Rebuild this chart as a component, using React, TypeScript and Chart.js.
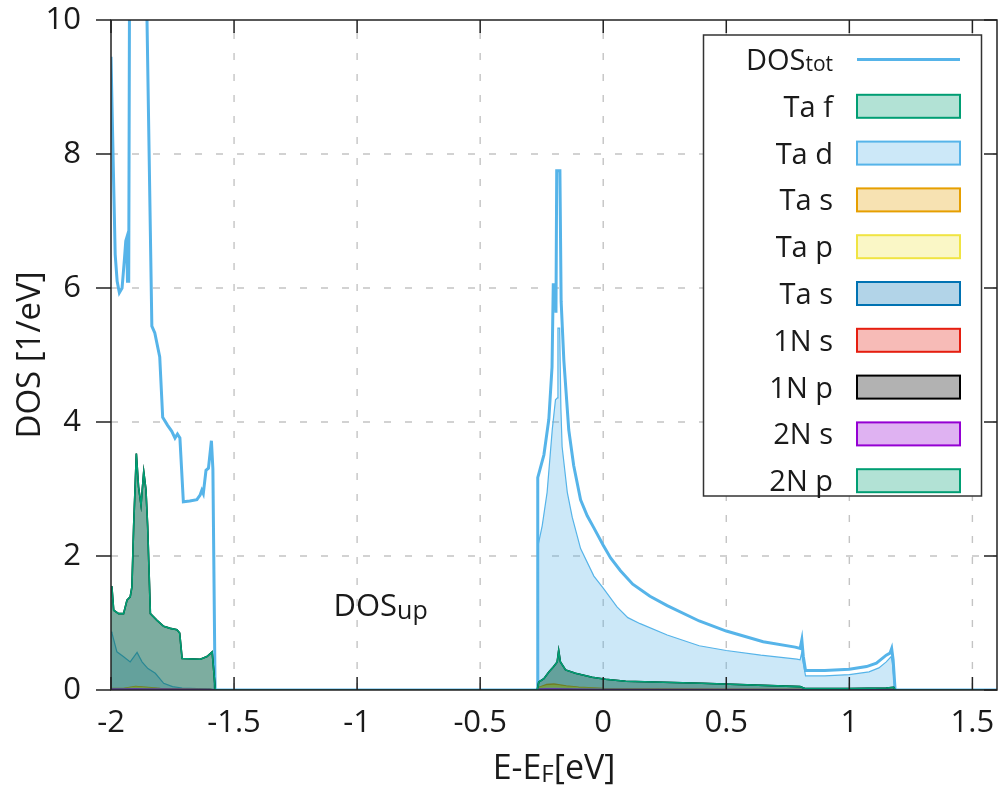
import { useEffect, useRef } from "react";
import { Chart, registerables } from "chart.js";

Chart.register(...registerables);

const FONT = "'Open Sans', 'Noto Sans', sans-serif";

const xTicks = [-2, -1.5, -1, -0.5, 0, 0.5, 1, 1.5];
const yTicks = [0, 2, 4, 6, 8, 10];

// DOS total
const totE = [-2.0, -1.99, -1.983, -1.975, -1.966, -1.955, -1.945, -1.94, -1.936, -1.933, -1.928, -1.924, -1.9, -1.87, -1.855, -1.834, -1.822, -1.802, -1.79, -1.77, -1.753, -1.74, -1.73, -1.72, -1.706, -1.68, -1.651, -1.638, -1.631, -1.625, -1.614, -1.604, -1.592, -1.586, -1.577,
  -0.268, -0.266, -0.241, -0.221, -0.208, -0.203, -0.194, -0.192, -0.189, -0.176, -0.171, -0.16, -0.14, -0.12, -0.092, -0.065, -0.038, 0.0, 0.03, 0.07, 0.12, 0.19, 0.26, 0.39, 0.5, 0.65, 0.78, 0.8, 0.807, 0.813, 0.822, 0.9, 1.0, 1.07, 1.11, 1.15, 1.165, 1.172, 1.178, 1.186, 1.6];
const totV = [9.45, 7.7, 6.5, 6.1, 5.93, 6.0, 6.45, 6.7, 6.75, 6.1, 6.1, 11.5, 14, 13, 10.3, 5.43, 5.33, 4.97, 4.07, 3.95, 3.86, 3.76, 3.82, 3.76, 2.81, 2.82, 2.84, 2.91, 2.98, 2.93, 3.28, 3.31, 3.72, 3.3, 0,
  0, 3.17, 3.51, 4.04, 4.82, 6.05, 6.05, 5.63, 7.75, 7.75, 5.8, 4.92, 3.88, 3.35, 2.84, 2.6, 2.42, 2.16, 1.97, 1.78, 1.58, 1.4, 1.26, 1.03, 0.88, 0.72, 0.64, 0.62, 0.75, 0.5, 0.29, 0.29, 0.31, 0.35, 0.4, 0.52, 0.55, 0.62, 0.45, 0, 0];

// Ta d
const tadE = [-2.0, -1.996, -1.976, -1.95, -1.922, -1.894, -1.874, -1.85, -1.82, -1.786, -1.75, -1.711, -1.65, -1.577, -1.575,
  -0.266, -0.264, -0.248, -0.228, -0.207, -0.194, -0.186, -0.184, -0.177, -0.172, -0.167, -0.146, -0.126, -0.092, -0.038, 0.0, 0.056, 0.1, 0.15, 0.26, 0.39, 0.5, 0.64, 0.787, 0.8, 0.806, 0.812, 0.822, 0.9, 1.0, 1.08, 1.12, 1.15, 1.17, 1.175, 1.185, 1.6];
const tadV = [0.87, 0.85, 0.57, 0.5, 0.42, 0.56, 0.42, 0.32, 0.25, 0.1, 0.05, 0.03, 0.02, 0.01, 0,
  0, 2.17, 2.45, 2.95, 3.89, 4.33, 4.36, 5.4, 5.4, 4.2, 3.63, 2.95, 2.58, 2.11, 1.7, 1.52, 1.24, 1.08, 0.99, 0.82, 0.66, 0.59, 0.52, 0.46, 0.45, 0.55, 0.42, 0.21, 0.21, 0.23, 0.27, 0.33, 0.42, 0.5, 0.4, 0, 0];

// N p (1N p and 2N p coincide)
const npE = [-2.0, -1.996, -1.989, -1.969, -1.949, -1.935, -1.922, -1.915, -1.908, -1.897, -1.888, -1.878, -1.867, -1.858, -1.851, -1.84, -1.813, -1.786, -1.759, -1.732, -1.721, -1.711, -1.637, -1.61, -1.589, -1.576,
  -0.268, -0.262, -0.241, -0.221, -0.201, -0.187, -0.181, -0.174, -0.153, -0.113, -0.045, 0.009, 0.091, 0.4, 0.8, 0.822, 1.0, 1.15, 1.18, 1.186, 1.6];
const npV = [1.55, 1.52, 1.19, 1.14, 1.14, 1.34, 1.39, 1.54, 2.44, 3.53, 3.03, 2.76, 3.26, 2.99, 2.44, 1.14, 1.04, 0.95, 0.92, 0.9, 0.85, 0.47, 0.46, 0.5, 0.57, 0,
  0, 0.12, 0.17, 0.27, 0.35, 0.42, 0.59, 0.42, 0.3, 0.25, 0.19, 0.16, 0.13, 0.1, 0.05, 0.02, 0.02, 0.03, 0.04, 0, 0];

// small partials
const smallE = [-2.0, -1.95, -1.9, -1.86, -1.8, -1.6, -1.576, -0.266, -0.26, -0.23, -0.2, -0.15, -0.1, 0.0, 0.5, 1.18, 1.186, 1.6];
const tasV = [0.02, 0.02, 0.05, 0.04, 0.02, 0.01, 0, 0, 0.04, 0.08, 0.09, 0.06, 0.04, 0.02, 0.01, 0.005, 0, 0];
const tapV = [0.015, 0.015, 0.04, 0.03, 0.015, 0.008, 0, 0, 0.03, 0.06, 0.065, 0.045, 0.03, 0.015, 0.008, 0.004, 0, 0];
const tas2V = [0.01, 0.01, 0.012, 0.01, 0.008, 0.005, 0, 0, 0.01, 0.012, 0.012, 0.01, 0.008, 0.006, 0.004, 0.003, 0, 0];
const n1sV = [0.006, 0.006, 0.008, 0.006, 0.005, 0.003, 0, 0, 0.005, 0.006, 0.006, 0.005, 0.004, 0.003, 0.002, 0.002, 0, 0];
const n2sV = [0.012, 0.012, 0.015, 0.012, 0.01, 0.006, 0, 0, 0.01, 0.014, 0.014, 0.012, 0.01, 0.008, 0.005, 0.004, 0, 0];
const tafV = [0.004, 0.004, 0.005, 0.004, 0.003, 0.002, 0, 0, 0.003, 0.004, 0.004, 0.003, 0.003, 0.002, 0.001, 0.001, 0, 0];

const seriesLabels = ["DOStot", "Ta f", "Ta d", "Ta s", "Ta p", "Ta s", "1N s", "1N p", "2N s", "2N p"];
const seriesColors = ["#56b4e9", "#009e73", "#56b4e9", "#e69f00", "#f0e442", "#0072b2", "#e51e10", "#000000", "#9400d3", "#009e73"];
const seriesE = [totE, smallE, tadE, smallE, smallE, smallE, smallE, npE, smallE, npE];
const seriesV = [totV, tafV, tadV, tasV, tapV, tas2V, n1sV, npV, n2sV, npV];

function rgba(hex: string, a: number) {
  const n = parseInt(hex.slice(1), 16);
  return `rgba(${(n >> 16) & 255},${(n >> 8) & 255},${n & 255},${a})`;
}

type Part = { t: string; size: number; dy: number };
function drawParts(ctx: CanvasRenderingContext2D, parts: Part[], x: number, y: number, align: "left" | "right" | "center") {
  const widths = parts.map((p) => {
    ctx.font = `${p.size}px ${FONT}`;
    return ctx.measureText(p.t).width;
  });
  const total = widths.reduce((a, b) => a + b, 0);
  let cx = align === "left" ? x : align === "right" ? x - total : x - total / 2;
  ctx.textAlign = "left";
  ctx.textBaseline = "alphabetic";
  parts.forEach((p, i) => {
    ctx.font = `${p.size}px ${FONT}`;
    ctx.fillText(p.t, cx, y + p.dy);
    cx += widths[i];
  });
}

const gnuplotPlugin = {
  id: "gnuplotFrame",
  beforeDatasetsDraw(chart: any) {
    const { ctx, chartArea: a, scales } = chart;
    ctx.save();
    ctx.strokeStyle = "#c4c4c4";
    ctx.lineWidth = 1.4;
    ctx.setLineDash([7, 14]);
    xTicks.forEach((v) => {
      const px = scales.x.getPixelForValue(v);
      if (Math.abs(px - a.left) < 1) return;
      ctx.beginPath();
      ctx.moveTo(px, a.bottom);
      ctx.lineTo(px, a.top);
      ctx.stroke();
    });
    yTicks.forEach((v) => {
      const py = scales.y.getPixelForValue(v);
      if (Math.abs(py - a.bottom) < 1 || Math.abs(py - a.top) < 1) return;
      ctx.beginPath();
      ctx.moveTo(a.left, py);
      ctx.lineTo(a.right, py);
      ctx.stroke();
    });
    ctx.restore();
  },
  afterDatasetsDraw(chart: any) {
    const { ctx, chartArea: a, scales } = chart;
    ctx.save();
    ctx.setLineDash([]);
    ctx.strokeStyle = "#222";
    ctx.lineWidth = 1.5;
    ctx.strokeRect(a.left, a.top, a.right - a.left, a.bottom - a.top);
    const tl = 13;
    ctx.beginPath();
    xTicks.forEach((v) => {
      const px = scales.x.getPixelForValue(v);
      ctx.moveTo(px, a.bottom);
      ctx.lineTo(px, a.bottom - tl);
      ctx.moveTo(px, a.top);
      ctx.lineTo(px, a.top + tl);
    });
    yTicks.forEach((v) => {
      const py = scales.y.getPixelForValue(v);
      ctx.moveTo(a.left - 15, py);
      ctx.lineTo(a.left, py);
      ctx.moveTo(a.right, py);
      ctx.lineTo(a.right - tl, py);
    });
    ctx.stroke();

    // legend
    const lx = 703.5, ly = 35, lw = 278, lh = 461;
    ctx.fillStyle = "#fff";
    ctx.fillRect(lx, ly, lw, lh);
    ctx.strokeStyle = "#333";
    ctx.lineWidth = 1.5;
    ctx.strokeRect(lx, ly, lw, lh);
    ctx.fillStyle = "#1a1a1a";
    seriesLabels.forEach((lab, i) => {
      const cy = 59.5 + i * 46.8;
      if (i === 0) {
        drawParts(ctx, [{ t: "DOS", size: 29, dy: 0 }, { t: "tot", size: 21, dy: 1 }], 833, cy + 10, "right");
        ctx.strokeStyle = seriesColors[0];
        ctx.lineWidth = 3;
        ctx.beginPath();
        ctx.moveTo(857, cy);
        ctx.lineTo(960, cy);
        ctx.stroke();
      } else {
        drawParts(ctx, [{ t: lab, size: 29, dy: 0 }], 833, cy + 10.5, "right");
        ctx.fillStyle = rgba(seriesColors[i], 0.3);
        ctx.fillRect(857, cy - 11.5, 103, 23);
        ctx.strokeStyle = seriesColors[i];
        ctx.lineWidth = 2;
        ctx.strokeRect(857, cy - 11.5, 103, 23);
      }
      ctx.fillStyle = "#1a1a1a";
    });

    // annotation
    const ax = scales.x.getPixelForValue(-1.096);
    const ay = scales.y.getPixelForValue(1.1);
    drawParts(ctx, [{ t: "DOS", size: 31, dy: 0 }, { t: "up", size: 25, dy: 3 }], ax, ay, "left");

    // axis titles
    drawParts(ctx, [{ t: "E-E", size: 34, dy: 0 }, { t: "F", size: 24, dy: 3 }, { t: "[eV]", size: 34, dy: 0 }], (a.left + a.right) / 2, 779, "center");
    ctx.save();
    ctx.translate(40, (a.top + a.bottom) / 2);
    ctx.rotate(-Math.PI / 2);
    drawParts(ctx, [{ t: "DOS [1/eV]", size: 33, dy: 0 }], 0, 0, "center");
    ctx.restore();
    ctx.restore();
  },
};

export default function App() {
  const ref = useRef<HTMLCanvasElement | null>(null);
  useEffect(() => {
    document.body.style.margin = "0";
    const canvas = ref.current;
    if (!canvas) return;
    const n = seriesLabels.length;
    const datasets = seriesLabels.map((lab, i) => ({
      label: lab,
      data: seriesE[i].map((x, j) => ({ x, y: seriesV[i][j] })),
      borderColor: seriesColors[i],
      backgroundColor: i === 0 ? "transparent" : rgba(seriesColors[i], 0.3),
      borderWidth: i === 0 ? 3 : i === 2 ? 1.2 : 1.6,
      fill: i === 0 ? false : "origin",
      pointRadius: 0,
      tension: 0,
      order: n - i,
    }));
    const tickFont = { family: FONT, size: 31 };
    const chart = new Chart(canvas, {
      type: "line",
      data: { datasets } as any,
      plugins: [gnuplotPlugin as any],
      options: {
        animation: false,
        responsive: true,
        maintainAspectRatio: false,
        layout: { padding: { top: 20, right: 7, left: 0, bottom: 0 } },
        plugins: { legend: { display: false }, tooltip: { enabled: false } },
        scales: {
          x: {
            type: "linear",
            min: -2,
            max: 1.6,
            afterFit: (s: any) => { s.height = 101; s.paddingLeft = 0; s.paddingRight = 0; s.paddingTop = 0; s.paddingBottom = 0; },
            afterBuildTicks: (s: any) => { s.ticks = xTicks.map((v) => ({ value: v })); },
            ticks: { font: tickFont, color: "#1a1a1a", padding: 15, maxRotation: 0, autoSkip: false, callback: (v: any) => String(Number(Number(v).toFixed(1))) },
            grid: { display: false, drawTicks: false },
            border: { display: false },
          },
          y: {
            type: "linear",
            min: 0,
            max: 10,
            afterFit: (s: any) => { s.width = 111; s.paddingTop = 0; s.paddingBottom = 0; s.paddingLeft = 0; s.paddingRight = 0; },
            afterBuildTicks: (s: any) => { s.ticks = yTicks.map((v) => ({ value: v })); },
            ticks: { font: tickFont, color: "#1a1a1a", padding: 30, autoSkip: false, callback: (v: any) => String(v) },
            grid: { display: false, drawTicks: false },
            border: { display: false },
          },
        },
      } as any,
    });
    return () => chart.destroy();
  }, []);
  return (
    <div style={{ width: 1004, height: 791, position: "relative" }}>
      <canvas ref={ref} style={{ display: "block" }} />
    </div>
  );
}
